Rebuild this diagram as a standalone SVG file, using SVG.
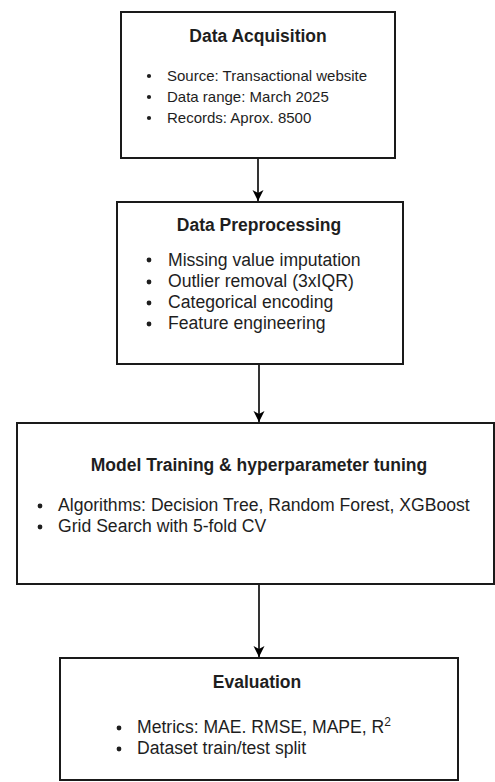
<svg xmlns="http://www.w3.org/2000/svg" width="495" height="782" viewBox="0 0 495 782">
<style>
.box{fill:#fff;stroke:#1a1a1a;stroke-width:2}
.t{font-family:"Liberation Sans",Arial,sans-serif;fill:#1e1e1e}
.h{font-weight:bold;font-size:17.5px;text-anchor:middle}
.b{font-size:17.6px}
.s{font-size:15px}
.dot{fill:#1e1e1e}
.c{stroke:#000;stroke-width:1.6;fill:none}
</style>
<defs>
<marker id="arr" markerUnits="userSpaceOnUse" markerWidth="12" markerHeight="12" viewBox="0 0 12 12" refX="11" refY="6" orient="auto">
<path d="M0,0.5 L11,6 L0,11.5 L3,6 Z" fill="#000"/>
</marker>
</defs>
<rect width="495" height="782" fill="#fff"/>
<g id="connectors">
<line class="c" x1="258" y1="158" x2="258" y2="201" marker-end="url(#arr)"/>
<line class="c" x1="259" y1="364" x2="259" y2="422" marker-end="url(#arr)"/>
<line class="c" x1="259" y1="584" x2="259" y2="657" marker-end="url(#arr)"/>
</g>
<g id="acquisition">
<rect class="box" x="121" y="12" width="274" height="146"/>
<text class="t h" x="258" y="42">Data Acquisition</text>
<circle class="dot" cx="149" cy="76" r="2.1"/>
<circle class="dot" cx="149" cy="97" r="2.1"/>
<circle class="dot" cx="149" cy="118" r="2.1"/>
<text class="t s" x="167" y="81">Source: Transactional website</text>
<text class="t s" x="167" y="102">Data range: March 2025</text>
<text class="t s" x="167" y="123">Records: Aprox. 8500</text>
</g>
<g id="preprocessing">
<rect class="box" x="117" y="202" width="286" height="162"/>
<text class="t h" x="259" y="231">Data Preprocessing</text>
<circle class="dot" cx="149" cy="260" r="2.4"/>
<circle class="dot" cx="149" cy="282" r="2.4"/>
<circle class="dot" cx="149" cy="303" r="2.4"/>
<circle class="dot" cx="149" cy="324" r="2.4"/>
<text class="t b" x="168" y="266">Missing value imputation</text>
<text class="t b" x="168" y="287">Outlier removal (3xIQR)</text>
<text class="t b" x="168" y="308">Categorical encoding</text>
<text class="t b" x="168" y="329">Feature engineering</text>
</g>
<g id="training">
<rect class="box" x="17" y="423" width="477" height="161"/>
<text class="t h" x="259" y="471">Model Training &amp; hyperparameter tuning</text>
<circle class="dot" cx="40" cy="506" r="2.4"/>
<circle class="dot" cx="40" cy="527" r="2.4"/>
<text class="t b" x="58" y="511">Algorithms: Decision Tree, Random Forest, XGBoost</text>
<text class="t b" x="58" y="532">Grid Search with 5-fold CV</text>
</g>
<g id="evaluation">
<rect class="box" x="60" y="658" width="398" height="122"/>
<text class="t h" x="257" y="688">Evaluation</text>
<circle class="dot" cx="119" cy="728" r="2.4"/>
<circle class="dot" cx="119" cy="749" r="2.4"/>
<text class="t b" x="137" y="733">Metrics: MAE. RMSE, MAPE, R<tspan font-size="12" dy="-7">2</tspan></text>
<text class="t b" x="137" y="754">Dataset train/test split</text>
</g>
</svg>
